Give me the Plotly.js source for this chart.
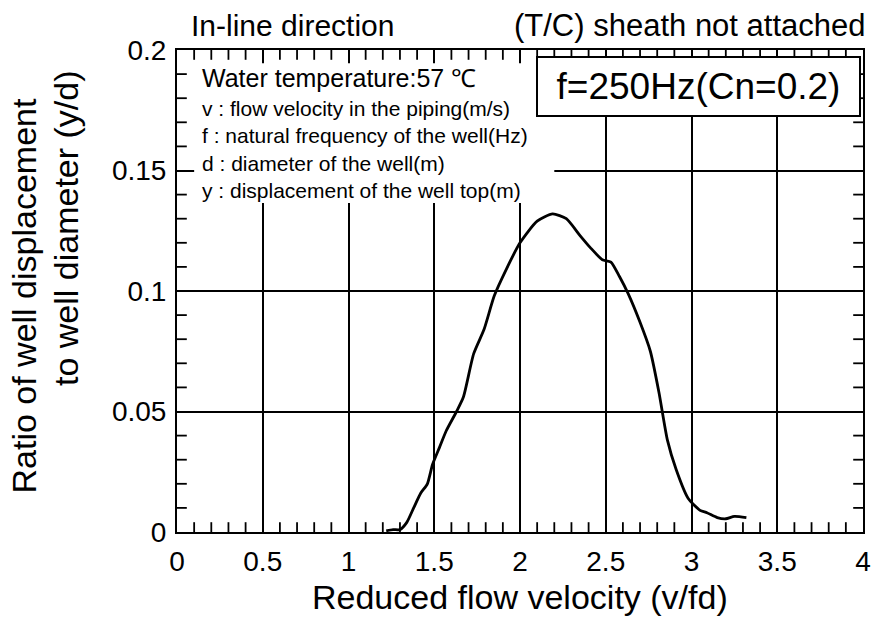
<!DOCTYPE html>
<html>
<head>
<meta charset="utf-8">
<script src="https://cdn.plot.ly/plotly-3.0.1.min.js"></script>
<style>html,body{margin:0;padding:0;background:#fff;}#chart{width:871px;height:626px;}</style>
</head>
<body>
<div id="chart"></div>
<script>
// Reduced flow velocity (v/fd)
var reducedVelocity = [1.22, 1.26, 1.30, 1.34, 1.38, 1.42, 1.46, 1.49, 1.53, 1.57, 1.63, 1.67, 1.73, 1.79, 1.85, 1.92, 2.00, 2.10, 2.19, 2.27, 2.35, 2.41, 2.48, 2.53, 2.58, 2.63, 2.70, 2.76, 2.81, 2.86, 2.91, 2.98, 3.05, 3.09, 3.15, 3.20, 3.25, 3.32];
// Ratio of well displacement to well diameter (y/d)
var displacementRatio = [0.0005, 0.001, 0.001, 0.004, 0.010, 0.016, 0.020, 0.028, 0.035, 0.042, 0.050, 0.056, 0.074, 0.084, 0.098, 0.109, 0.120, 0.129, 0.132, 0.130, 0.123, 0.118, 0.113, 0.112, 0.106, 0.099, 0.087, 0.075, 0.058, 0.038, 0.026, 0.014, 0.009, 0.008, 0.006, 0.0055, 0.0065, 0.006];

// axis ranges and tick steps
var xRange = [0, 4], xMajorStep = 0.5, xMinorStep = 0.1;
var yRange = [0, 0.2], yMajorStep = 0.05, yMinorStep = 0.01;

var titleLeft = "In-line direction";
var titleRight = "(T/C) sheath not attached";
var xTitle = "Reduced flow velocity (v/fd)";
var yTitleLine1 = "Ratio of well displacement";
var yTitleLine2 = "to well diameter (y/d)";
var noteHeader = "Water temperature:57 \u2103";
var noteLines = ["v : flow velocity in the piping(m/s)", "f : natural frequency of the well(Hz)", "d : diameter of the well(m)", "y : displacement of the well top(m)"];
var caseLabel = "f=250Hz(Cn=0.2)";

var FONT = "Liberation Sans, Arial, Helvetica, sans-serif";

var curve = {
  x: reducedVelocity,
  y: displacementRatio,
  type: "scatter",
  mode: "lines",
  line: {color: "#000", width: 2.8, shape: "spline", smoothing: 0.6},
  hoverinfo: "skip",
  showlegend: false
};

// minor tick positions, generated from the axis ranges and steps
function minorPositions(range, minorStep, majorStep, digits) {
  var out = [];
  var n = Math.round((range[1] - range[0]) / minorStep);
  var per = Math.round(majorStep / minorStep);
  for (var k = 1; k < n; k++) {
    if (k % per === 0) continue;
    out.push(+(range[0] + k * minorStep).toFixed(digits));
  }
  return out;
}
var xMinor = minorPositions(xRange, xMinorStep, xMajorStep, 4);
var yMinor = minorPositions(yRange, yMinorStep, yMajorStep, 5);
var MINOR_LEN = 7;

// minor ticks drawn as line markers centred on the frame; the plot-area clip keeps only the inner half
function tickTrace(xs, ys, symbol) {
  return {x: xs, y: ys, type: "scatter", mode: "markers", cliponaxis: true,
    marker: {symbol: symbol, size: 2 * MINOR_LEN, color: "#000", line: {color: "#000", width: 1.8}},
    hoverinfo: "skip", showlegend: false};
}
var tickTraces = [
  tickTrace(xMinor, xMinor.map(function () { return yRange[0]; }), "line-ns"),
  tickTrace(xMinor, xMinor.map(function () { return yRange[1]; }), "line-ns"),
  tickTrace(yMinor.map(function () { return xRange[0]; }), yMinor, "line-ew"),
  tickTrace(yMinor.map(function () { return xRange[1]; }), yMinor, "line-ew")
];

var axisCommon = {
  showline: true, linecolor: "#000", linewidth: 2, mirror: "ticks",
  ticks: "inside", ticklen: 9, tickwidth: 2, tickcolor: "#000",
  showgrid: true, gridcolor: "#000", gridwidth: 2,
  zeroline: false, fixedrange: true,
  tickfont: {family: FONT, size: 28, color: "#000"},
  ticklabelstandoff: 3,
  tickmode: "linear", tick0: 0
};

var layout = {
  width: 871, height: 626,
  margin: {l: 177, r: 8, t: 50, b: 94},
  paper_bgcolor: "#fff", plot_bgcolor: "#fff",
  font: {family: FONT, color: "#000"},
  xaxis: Object.assign({}, axisCommon, {range: xRange, dtick: xMajorStep}),
  yaxis: Object.assign({}, axisCommon, {range: yRange, dtick: yMajorStep}),
  shapes: [
    {type: "rect", xref: "x", yref: "y", x0: 0.1, x1: 2.2, y0: 0.1365, y1: 0.1945,
     fillcolor: "#fff", line: {width: 0}, layer: "between"}
  ],
  annotations: [
    {text: titleLeft, xref: "paper", yref: "paper", x: 0.017, y: 1.05, xanchor: "left", yanchor: "middle",
     showarrow: false, font: {family: FONT, size: 30, color: "#000"}},
    {text: titleRight, xref: "paper", yref: "paper", x: 1.008, y: 1.05, xanchor: "right", yanchor: "middle",
     showarrow: false, font: {family: FONT, size: 31, color: "#000"}},
    {text: xTitle, xref: "paper", yref: "paper", x: 0.5, y: -0.135, xanchor: "center", yanchor: "middle",
     showarrow: false, font: {family: FONT, size: 34, color: "#000"}},
    {text: yTitleLine1, xref: "paper", yref: "paper", x: -0.2223, y: 0.4896, xanchor: "center", yanchor: "middle",
     textangle: -90, showarrow: false, font: {family: FONT, size: 34, color: "#000"}},
    {text: yTitleLine2, xref: "paper", yref: "paper", x: -0.1618, y: 0.6307, xanchor: "center", yanchor: "middle",
     textangle: -90, showarrow: false, font: {family: FONT, size: 34, color: "#000"}},
    {text: noteHeader, xref: "paper", yref: "paper", x: 0.0335, y: 0.976, xanchor: "left", yanchor: "top",
     showarrow: false, align: "left", font: {family: FONT, size: 25, color: "#000"}},
    {text: noteLines.join("<br>"), xref: "paper", yref: "paper", x: 0.0335, y: 0.9066, xanchor: "left", yanchor: "top",
     showarrow: false, align: "left", font: {family: FONT, size: 21, color: "#000"}},
    {text: caseLabel, xref: "paper", yref: "paper", x: 0.760, y: 0.924, xanchor: "center", yanchor: "middle",
     showarrow: false, align: "center", font: {family: FONT, size: 37, color: "#000"},
     bgcolor: "#fff", bordercolor: "#000", borderwidth: 2, borderpad: 8, width: 305}
  ]
};

Plotly.newPlot("chart", [curve].concat(tickTraces), layout, {displayModeBar: false, staticPlot: true});
</script>
</body>
</html>
